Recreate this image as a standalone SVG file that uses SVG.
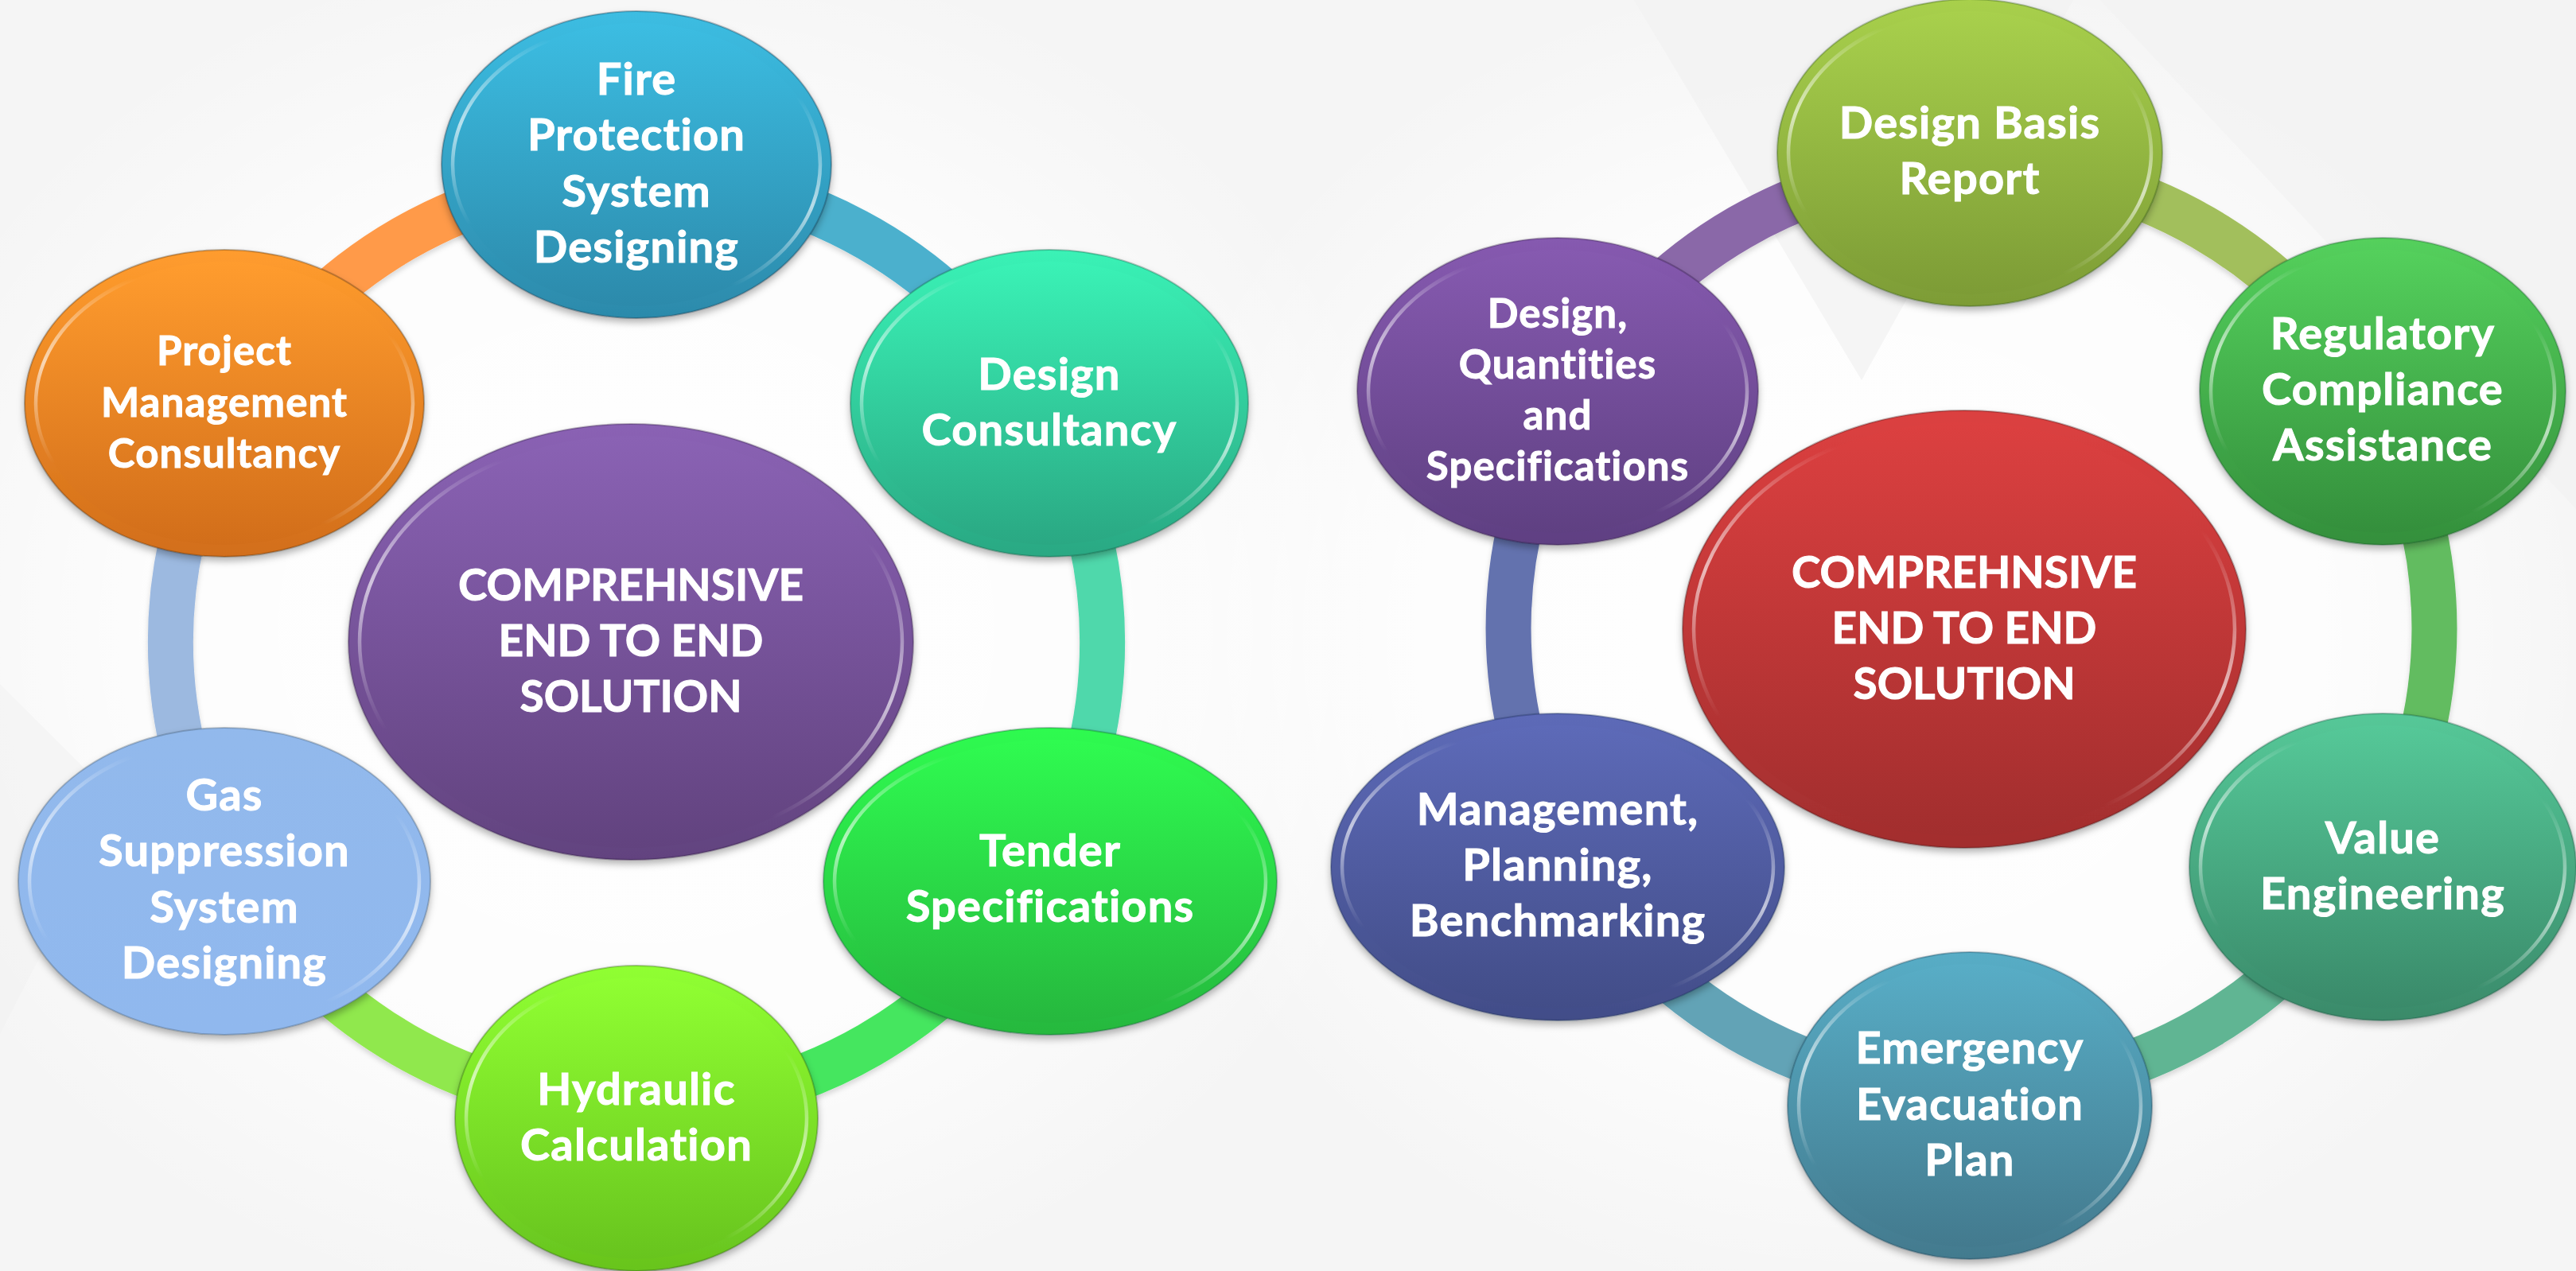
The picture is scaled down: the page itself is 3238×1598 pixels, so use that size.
<svg xmlns="http://www.w3.org/2000/svg" width="3238" height="1598" viewBox="0 0 3238 1598">
<defs>
<style>
.t{font-family:"Lato","Liberation Sans",sans-serif;font-weight:700;font-size:56px;letter-spacing:1.2px;fill:#fff;stroke:#fff;stroke-width:1;text-anchor:middle}
.c{font-size:55px;letter-spacing:0}
.s{font-size:51px;letter-spacing:1.1px}
.arc{fill:none;stroke-width:57}
.rim{stroke-opacity:.3;stroke-width:2;filter:url(#sh)}
.face{stroke:url(#hl);stroke-width:4.5}
</style>
<filter id="sh" x="-10%" y="-10%" width="120%" height="125%"><feDropShadow dx="0" dy="5" stdDeviation="5" flood-color="#000" flood-opacity=".3"/></filter>
<filter id="sa" x="-5%" y="-5%" width="110%" height="110%"><feDropShadow dx="0" dy="4" stdDeviation="3" flood-color="#000" flood-opacity=".15"/></filter>
<radialGradient id="bgl" cx=".5" cy=".5" r=".5"><stop offset="0" stop-color="#fff"/><stop offset=".6" stop-color="#fff" stop-opacity=".8"/><stop offset="1" stop-color="#fff" stop-opacity="0"/></radialGradient>
<linearGradient id="hl" x1=".65" y1="0" x2=".35" y2="1"><stop offset=".16" stop-color="#fff" stop-opacity="0"/><stop offset=".5" stop-color="#fff" stop-opacity=".65"/><stop offset=".82" stop-color="#fff" stop-opacity="0"/></linearGradient>
<linearGradient id="g1" x1="0" y1="0" x2="0" y2="1"><stop offset="0" stop-color="#3cbde2"/><stop offset="1" stop-color="#2c8aab"/></linearGradient>
<linearGradient id="g2" x1="0" y1="0" x2="0" y2="1"><stop offset="0" stop-color="#ff9c2e"/><stop offset="1" stop-color="#d26e1a"/></linearGradient>
<linearGradient id="g3" x1="0" y1="0" x2="0" y2="1"><stop offset="0" stop-color="#3af2b6"/><stop offset="1" stop-color="#2aa883"/></linearGradient>
<linearGradient id="g4" x1="0" y1="0" x2="0" y2="1"><stop offset="0" stop-color="#2ffb50"/><stop offset="1" stop-color="#26b83e"/></linearGradient>
<linearGradient id="g5" x1="0" y1="0" x2="0" y2="1"><stop offset="0" stop-color="#90ff32"/><stop offset="1" stop-color="#68c41e"/></linearGradient>
<linearGradient id="g6" x1="0" y1="0" x2="0" y2="1"><stop offset="0" stop-color="#92b9ec"/><stop offset="1" stop-color="#90b8ee"/></linearGradient>
<linearGradient id="g7" x1="0" y1="0" x2="0" y2="1"><stop offset="0" stop-color="#8a62b4"/><stop offset="1" stop-color="#62437f"/></linearGradient>
<linearGradient id="g8" x1="0" y1="0" x2="0" y2="1"><stop offset="0" stop-color="#a8d04c"/><stop offset="1" stop-color="#7d9c36"/></linearGradient>
<linearGradient id="g9" x1="0" y1="0" x2="0" y2="1"><stop offset="0" stop-color="#54d05c"/><stop offset="1" stop-color="#348f3c"/></linearGradient>
<linearGradient id="g10" x1="0" y1="0" x2="0" y2="1"><stop offset="0" stop-color="#55c898"/><stop offset="1" stop-color="#3a8a6a"/></linearGradient>
<linearGradient id="g11" x1="0" y1="0" x2="0" y2="1"><stop offset="0" stop-color="#58adc6"/><stop offset="1" stop-color="#437a8e"/></linearGradient>
<linearGradient id="g12" x1="0" y1="0" x2="0" y2="1"><stop offset="0" stop-color="#5d6ab8"/><stop offset="1" stop-color="#424d88"/></linearGradient>
<linearGradient id="g13" x1="0" y1="0" x2="0" y2="1"><stop offset="0" stop-color="#865ab0"/><stop offset="1" stop-color="#5f4082"/></linearGradient>
<linearGradient id="g14" x1="0" y1="0" x2="0" y2="1"><stop offset="0" stop-color="#dc4040"/><stop offset="1" stop-color="#a22e2e"/></linearGradient>
</defs>
<rect width="3238" height="1598" fill="#f5f5f5"/>
<g id="background">
<ellipse cx="800" cy="790" rx="1000" ry="880" fill="url(#bgl)"/>
<ellipse cx="2350" cy="800" rx="950" ry="850" fill="url(#bgl)"/>
<polygon points="2054,0 2606,0 2340,478" fill="#f1f1f1" opacity=".75"/>
<polygon points="2640,0 3238,0 3238,640" fill="#f1f1f1" opacity=".6"/>
<polygon points="0,860 150,1010 0,1300" fill="#f1f1f1" opacity=".6"/>
</g>
<g id="connectors" filter="url(#sa)">
<path class="arc" stroke="#4bb0cd" d="M800 222A585 585 0 0 1 1307 514"/>
<path class="arc" stroke="#4fd8ab" d="M1307 514A585 585 0 0 1 1307 1100"/>
<path class="arc" stroke="#45e65f" d="M1307 1100A585 585 0 0 1 800 1392"/>
<path class="arc" stroke="#90e84e" d="M800 1392A585 585 0 0 1 293 1100"/>
<path class="arc" stroke="#9cb9e0" d="M293 1100A585 585 0 0 1 293 514"/>
<path class="arc" stroke="#ff9a4a" d="M293 514A585 585 0 0 1 800 222"/>
<path class="arc" stroke="#a2bf5c" d="M2478 208A582 582 0 0 1 2982 499"/>
<path class="arc" stroke="#62bc60" d="M2982 499A582 582 0 0 1 2982 1081"/>
<path class="arc" stroke="#60b593" d="M2982 1081A582 582 0 0 1 2478 1372"/>
<path class="arc" stroke="#62a3b6" d="M2478 1372A582 582 0 0 1 1974 1081"/>
<path class="arc" stroke="#6372ae" d="M1974 1081A582 582 0 0 1 1974 499"/>
<path class="arc" stroke="#8a68a8" d="M1974 499A582 582 0 0 1 2478 208"/>
</g>
<g id="n-fire"><ellipse class="rim" cx="800" cy="207" rx="245" ry="193" fill="url(#g1)" stroke="#123"/><ellipse class="face" cx="800" cy="207" rx="231" ry="178" fill="url(#g1)"/>
<text class="t" x="800" y="119">Fire</text><text class="t" x="800" y="189">Protection</text><text class="t" x="800" y="260">System</text><text class="t" x="800" y="330">Designing</text></g>
<g id="n-project"><ellipse class="rim" cx="282" cy="507" rx="251" ry="193" fill="url(#g2)" stroke="#321"/><ellipse class="face" cx="282" cy="507" rx="237" ry="178" fill="url(#g2)"/>
<text class="t s" x="282" y="459">Project</text><text class="t s" x="282" y="524">Management</text><text class="t s" x="282" y="588">Consultancy</text></g>
<g id="n-design"><ellipse class="rim" cx="1319" cy="507" rx="250" ry="193" fill="url(#g3)" stroke="#143"/><ellipse class="face" cx="1319" cy="507" rx="236" ry="178" fill="url(#g3)"/>
<text class="t" x="1319" y="490">Design</text><text class="t" x="1319" y="560">Consultancy</text></g>
<g id="n-tender"><ellipse class="rim" cx="1320" cy="1108" rx="285" ry="193" fill="url(#g4)" stroke="#143"/><ellipse class="face" cx="1320" cy="1108" rx="271" ry="178" fill="url(#g4)"/>
<text class="t" x="1320" y="1089">Tender</text><text class="t" x="1320" y="1159">Specifications</text></g>
<g id="n-hydraulic"><ellipse class="rim" cx="800" cy="1406" rx="228" ry="192" fill="url(#g5)" stroke="#241"/><ellipse class="face" cx="800" cy="1406" rx="214" ry="177" fill="url(#g5)"/>
<text class="t" x="800" y="1389">Hydraulic</text><text class="t" x="800" y="1459">Calculation</text></g>
<g id="n-gas"><ellipse class="rim" cx="282" cy="1108" rx="259" ry="193" fill="url(#g6)" stroke="#345"/><ellipse class="face" cx="282" cy="1108" rx="245" ry="178" fill="url(#g6)"/>
<text class="t" x="282" y="1019">Gas</text><text class="t" x="282" y="1089">Suppression</text><text class="t" x="282" y="1160">System</text><text class="t" x="282" y="1230">Designing</text></g>
<g id="n-center-left"><ellipse class="rim" cx="793" cy="807" rx="355" ry="274" fill="url(#g7)" stroke="#213"/><ellipse class="face" cx="793" cy="807" rx="341" ry="259" fill="url(#g7)"/>
<text class="t c" x="793" y="755">COMPREHNSIVE</text><text class="t c" x="793" y="825">END TO END</text><text class="t c" x="793" y="895">SOLUTION</text></g>
<g id="n-basis"><ellipse class="rim" cx="2476" cy="192" rx="242" ry="193" fill="url(#g8)" stroke="#241"/><ellipse class="face" cx="2476" cy="192" rx="228" ry="178" fill="url(#g8)"/>
<text class="t" x="2476" y="174">Design Basis</text><text class="t" x="2476" y="244">Report</text></g>
<g id="n-regulatory"><ellipse class="rim" cx="2995" cy="492" rx="230" ry="193" fill="url(#g9)" stroke="#142"/><ellipse class="face" cx="2995" cy="492" rx="216" ry="178" fill="url(#g9)"/>
<text class="t" x="2995" y="439">Regulatory</text><text class="t" x="2995" y="509">Compliance</text><text class="t" x="2995" y="579">Assistance</text></g>
<g id="n-value"><ellipse class="rim" cx="2995" cy="1090" rx="243" ry="193" fill="url(#g10)" stroke="#143"/><ellipse class="face" cx="2995" cy="1090" rx="229" ry="178" fill="url(#g10)"/>
<text class="t" x="2995" y="1073">Value</text><text class="t" x="2995" y="1143">Engineering</text></g>
<g id="n-emergency"><ellipse class="rim" cx="2476" cy="1390" rx="229" ry="193" fill="url(#g11)" stroke="#134"/><ellipse class="face" cx="2476" cy="1390" rx="215" ry="178" fill="url(#g11)"/>
<text class="t" x="2476" y="1337">Emergency</text><text class="t" x="2476" y="1408">Evacuation</text><text class="t" x="2476" y="1478">Plan</text></g>
<g id="n-management"><ellipse class="rim" cx="1958" cy="1090" rx="285" ry="193" fill="url(#g12)" stroke="#124"/><ellipse class="face" cx="1958" cy="1090" rx="271" ry="178" fill="url(#g12)"/>
<text class="t" x="1958" y="1037">Management,</text><text class="t" x="1958" y="1107">Planning,</text><text class="t" x="1958" y="1177">Benchmarking</text></g>
<g id="n-dqs"><ellipse class="rim" cx="1958" cy="492" rx="252" ry="193" fill="url(#g13)" stroke="#213"/><ellipse class="face" cx="1958" cy="492" rx="238" ry="178" fill="url(#g13)"/>
<text class="t s" x="1958" y="412">Design,</text><text class="t s" x="1958" y="476">Quantities</text><text class="t s" x="1958" y="540">and</text><text class="t s" x="1958" y="604">Specifications</text></g>
<g id="n-center-right"><ellipse class="rim" cx="2469" cy="791" rx="354" ry="275" fill="url(#g14)" stroke="#311"/><ellipse class="face" cx="2469" cy="791" rx="340" ry="260" fill="url(#g14)"/>
<text class="t c" x="2469" y="739">COMPREHNSIVE</text><text class="t c" x="2469" y="809">END TO END</text><text class="t c" x="2469" y="879">SOLUTION</text></g>
</svg>
